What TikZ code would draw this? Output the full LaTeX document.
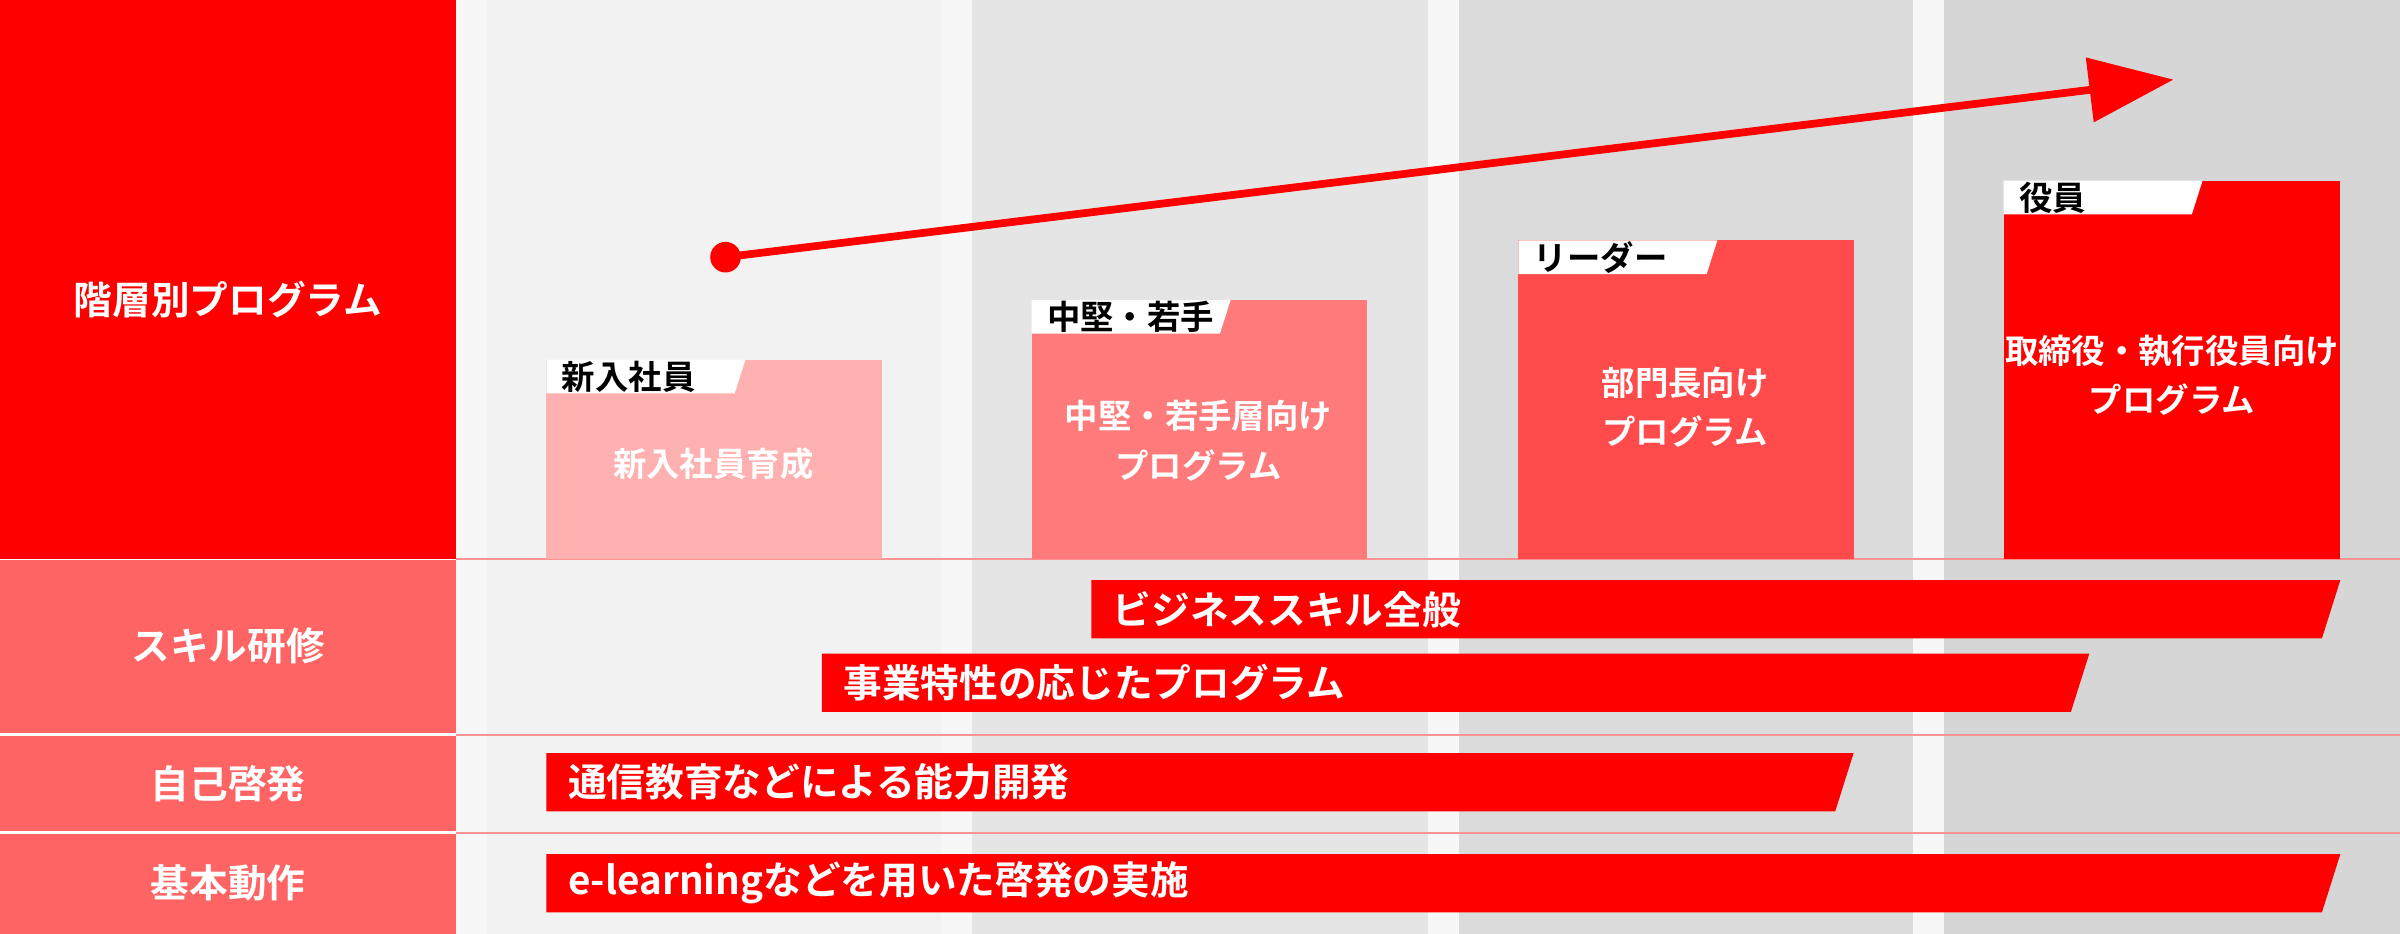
\documentclass[tikz,border=0pt]{standalone}
\usepackage{fontspec}
\setmainfont{Noto Sans CJK JP}[BoldFont={Noto Sans CJK JP Bold}]
\usetikzlibrary{arrows.meta,calc}
\definecolor{hred}{HTML}{FF0000}
\definecolor{hlight}{HTML}{FF6464}
\definecolor{fone}{HTML}{FFB0B0}
\definecolor{ftwo}{HTML}{FF7B7B}
\definecolor{fthree}{HTML}{FF4B4B}
\tikzset{
  rowlabel/.style={text=white,font=\bfseries\fontsize{11pt}{13pt}\selectfont},
  taglabel/.style={anchor=west,font=\bfseries\fontsize{9.5pt}{11pt}\selectfont},
  boxlabel/.style={text=white,align=center,font=\bfseries\fontsize{9.5pt}{14pt}\selectfont},
  barlabel/.style={anchor=west,text=white,font=\bfseries\fontsize{11pt}{13pt}\selectfont}
}
\newcommand{\folder}[6]{% x1,x2,ytop,color,name,tag
  \fill[#4] (#1,#3) rectangle (#2,365);
  \fill[white] (#1,#3) -- ({#1+130},#3) -- ({#1+123},{#3+22}) -- (#1,{#3+22}) -- cycle;
  \node[taglabel] (#5) at ({#1+2},{#3+11}) {#6};
}
\newcommand{\progbar}[5]{% x1,x2,ytop,name,text
  \fill[hred] (#1,#3) -- (#2,#3) -- ({#2-12},{#3+38}) -- (#1,{#3+38}) -- cycle;
  \node[barlabel] (#4) at ({#1+6},{#3+19}) {#5};
}
\begin{document}
\begin{tikzpicture}[x=0.015306cm,y=-0.015306cm]
\useasboundingbox (0,0) rectangle (1568,610);
% background columns
\fill[gray!6] (298,0) rectangle (1568,610);
\fill[gray!10] (318,0) rectangle (615,610);
\fill[gray!20] (635,0) rectangle (933,610);
\fill[gray!28] (953,0) rectangle (1250,610);
\fill[gray!32] (1270,0) rectangle (1568,610);
% row lines
\foreach \y in {365,480,544} \draw[hlight!70,line width=0.5pt] (298,\y) -- (1568,\y);
% left column
\fill[hred] (0,0) rectangle (298,365);
\fill[hlight] (0,366) rectangle (298,479);
\fill[hlight] (0,481) rectangle (298,543);
\fill[hlight] (0,545) rectangle (298,610);
\node[rowlabel] (rowa) at (149,196) {階層別プログラム};
\node[rowlabel] (rowb) at (149,422) {スキル研修};
\node[rowlabel] (rowc) at (149,512) {自己啓発};
\node[rowlabel] (rowd) at (149,577) {基本動作};
% folders
\folder{357}{576}{235}{fone}{taga}{新入社員}
\folder{674}{893}{196}{ftwo}{tagb}{中堅・若手}
\folder{992}{1211}{157}{fthree}{tagc}{リーダー}
\folder{1309}{1529}{118}{hred}{tagd}{役員}
\node[boxlabel] (boxa) at (466,303) {新入社員育成};
\node[boxlabel] (boxb) at (783,288) {中堅・若手層向け\\プログラム};
\node[boxlabel] (boxc) at (1101,266) {部門長向け\\プログラム};
\node[boxlabel] (boxd) at (1419,245) {取締役・執行役員向け\\プログラム};
% arrow
\fill[hred] (474,168) circle (10);
\coordinate (start) at (474,168);
\coordinate (tip) at (1420,52);
\draw[hred,line width=2.2pt,-{Triangle[length=24pt,width=18pt]}] (start) -- (tip);
% bars
\progbar{713}{1529}{379}{bara}{ビジネススキル全般}
\progbar{537}{1365}{427}{barb}{事業特性の応じたプログラム}
\progbar{357}{1211}{492}{barc}{通信教育などによる能力開発}
\progbar{357}{1529}{558}{bard}{e-learningなどを用いた啓発の実施}
\end{tikzpicture}
\end{document}
